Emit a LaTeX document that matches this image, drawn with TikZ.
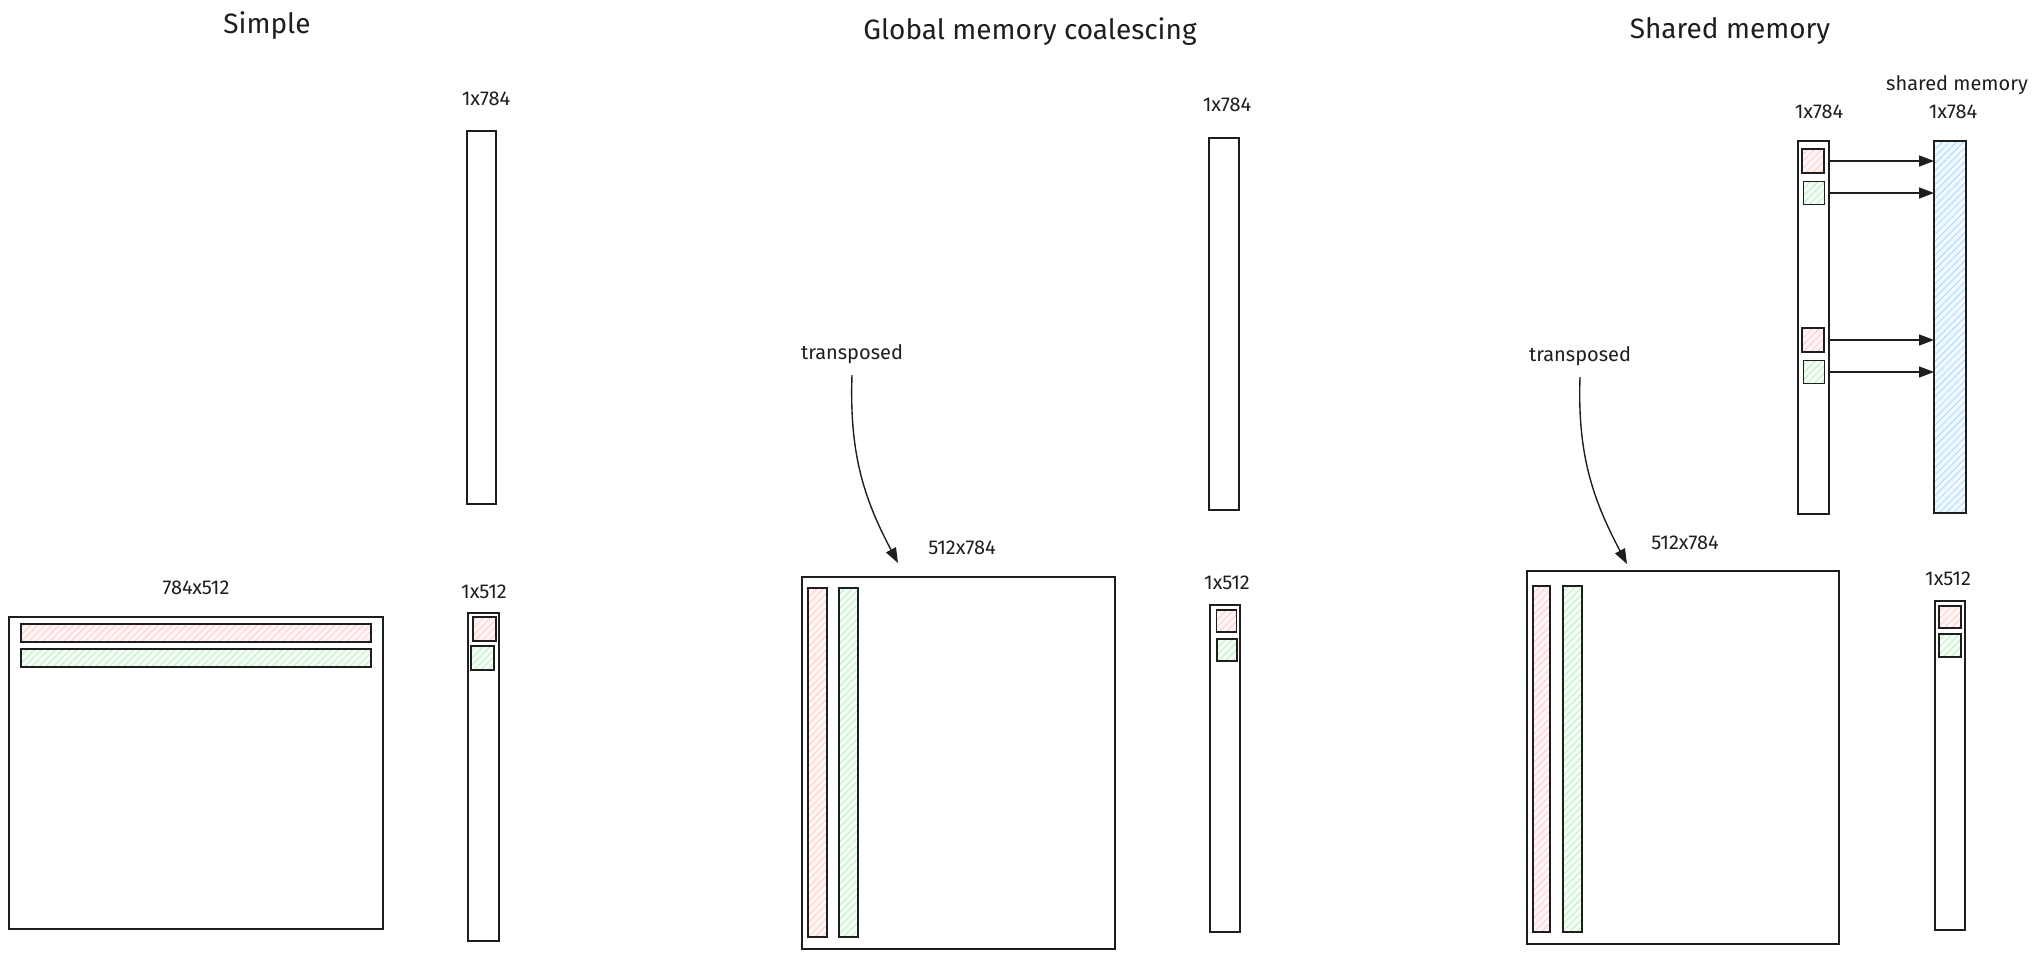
\documentclass[tikz,border=0pt]{standalone}
\usepackage{fontspec}
\setmainfont{Fira Sans}
\usetikzlibrary{arrows.meta,patterns.meta}

\definecolor{redfill}{HTML}{FFF5F5}
\definecolor{redline}{HTML}{FFC9C9}
\definecolor{greenfill}{HTML}{F4FCF5}
\definecolor{greenline}{HTML}{B2F2BB}
\definecolor{bluefill}{HTML}{F1F8FF}
\definecolor{blueline}{HTML}{A5D8FF}
\definecolor{ink}{HTML}{1E1E1E}

\begin{document}
\begin{tikzpicture}[x=1pt,y=-1pt,
  title/.style={font=\fontsize{28}{32}\selectfont,text=ink},
  lbl/.style={font=\fontsize{20}{24}\selectfont,text=ink},
  bar/.style={draw=ink,line width=1.5pt,rectangle,inner sep=0pt,outer sep=0pt},
  hatch/.style 2 args={preaction={fill=#1},preaction={pattern={Lines[angle=45,distance=5pt,line width=0.8pt]},pattern color=#2}},
  redcell/.style={bar,hatch={redfill}{redline}},
  greencell/.style={bar,hatch={greenfill}{greenline}},
  bluecell/.style={bar,hatch={bluefill}{blueline}},
  arr/.style={draw=ink,line width=1.4pt,-{Triangle[length=15pt,width=11pt]}}]

  \useasboundingbox (0,0) rectangle (2036,960);

  % Simple
  \node[title] (tsimple) at (267,26) {Simple};
  \node[lbl] (lvec1) at (486,99) {1x784};
  \node[bar,minimum width=29,minimum height=373] (vec1) at (481.5,317.5) {};
  \node[lbl] (lmat1) at (196,588) {784x512};
  \node[bar,minimum width=374,minimum height=312] (mat1) at (196,773) {};
  \node[redcell,minimum width=350,minimum height=18] (row1a) at (196,633) {};
  \node[greencell,minimum width=350,minimum height=18] (row1b) at (196,658) {};
  \node[lbl] (lout1) at (484,592) {1x512};
  \node[bar,minimum width=31,minimum height=328] (out1) at (483.5,777) {};
  \node[redcell,minimum width=23,minimum height=24] (sq1a) at (484.5,629) {};
  \node[greencell,minimum width=23,minimum height=24] (sq1b) at (482.5,658) {};

  % Global memory coalescing
  \node[title] (tglobal) at (1030,32) {Global memory coalescing};
  \node[lbl] (lvec2) at (1227,105) {1x784};
  \node[bar,minimum width=30,minimum height=372] (vec2) at (1224,324) {};
  \node[lbl] (ltrans2) at (852,354) {transposed};
  \node[lbl] (lmat2) at (962,548) {512x784};
  \node[bar,minimum width=313,minimum height=372] (mat2) at (958.5,763) {};
  \node[redcell,minimum width=19,minimum height=349] (col2a) at (817.5,762.5) {};
  \node[greencell,minimum width=19,minimum height=349] (col2b) at (848.5,762.5) {};
  \node[lbl] (lout2) at (1227,583) {1x512};
  \node[bar,minimum width=30,minimum height=327] (out2) at (1225,768.5) {};
  \node[redcell,minimum width=20,minimum height=22] (sq2a) at (1226.5,621) {};
  \node[greencell,minimum width=20,minimum height=22] (sq2b) at (1227,650) {};
  \coordinate (tip2) at (898,563);
  \draw[arr] ([yshift=-8pt]ltrans2.south) to[out=-92,in=118] (tip2);

  % Shared memory
  \node[title] (tshared) at (1730,31) {Shared memory};
  \node[lbl] (lshm) at (1957,85) {shared memory};
  \node[lbl] (lvec3) at (1819,112) {1x784};
  \node[lbl] (lshv) at (1953,112) {1x784};
  \node[bar,minimum width=31,minimum height=373] (vec3) at (1813.5,327.5) {};
  \node[bluecell,minimum width=32,minimum height=372] (shm) at (1950,327) {};
  \node[redcell,minimum width=22,minimum height=24] (sq3a) at (1813,161) {};
  \node[greencell,minimum width=21,minimum height=23] (sq3b) at (1814,193) {};
  \node[redcell,minimum width=22,minimum height=24] (sq3c) at (1813,340) {};
  \node[greencell,minimum width=21,minimum height=23] (sq3d) at (1814,372) {};
  \foreach \s in {sq3a,sq3b,sq3c,sq3d}
    \draw[arr] (\s.east -| vec3.east) -- (\s.east -| shm.west);
  \node[lbl] (ltrans3) at (1580,356) {transposed};
  \node[lbl] (lmat3) at (1685,543) {512x784};
  \node[bar,minimum width=312,minimum height=373] (mat3) at (1683,757.5) {};
  \node[redcell,minimum width=17,minimum height=346] (col3a) at (1541.5,759) {};
  \node[greencell,minimum width=19,minimum height=346] (col3b) at (1572.5,759) {};
  \node[lbl] (lout3) at (1948,579) {1x512};
  \node[bar,minimum width=30,minimum height=329] (out3) at (1950,765.5) {};
  \node[redcell,minimum width=22,minimum height=22] (sq3e) at (1950,617) {};
  \node[greencell,minimum width=22,minimum height=23] (sq3f) at (1950,645.5) {};
  \coordinate (tip3) at (1627,564);
  \draw[arr] ([yshift=-8pt]ltrans3.south) to[out=-92,in=118] (tip3);

\end{tikzpicture}
\end{document}
